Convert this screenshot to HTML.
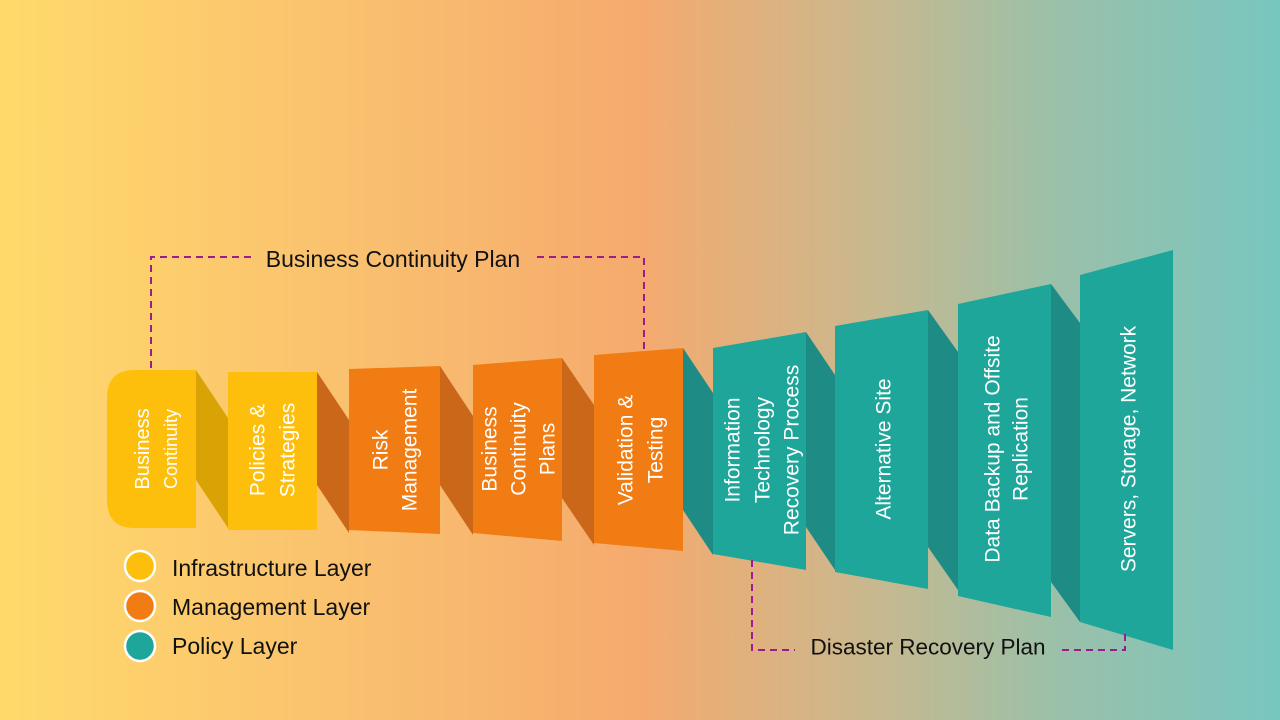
<!DOCTYPE html>
<html><head><meta charset="utf-8"><style>
html,body{margin:0;padding:0;}
body{width:1280px;height:720px;overflow:hidden;background:linear-gradient(90deg,#FFDA6B 0%,#F9BE6F 30%,#F5AA6E 50%,#C9B88E 68%,#9CC0A8 82%,#78C6C0 100%);}
svg{position:absolute;left:0;top:0;}
text{font-family:"Liberation Sans",sans-serif;}
.w{fill:#fff;font-size:21px;}
</style></head><body>
<svg width="1280" height="720" viewBox="0 0 1280 720">
<polygon points="196,370 228,418 228,528 196,480" fill="#D9A305"/>
<polygon points="317,372 349,420 349,533 317,485" fill="#CB6718"/>
<polygon points="440,366 473,416 473,535 440,485" fill="#CB6718"/>
<polygon points="562,358 594,405 594,545 562,498" fill="#CB6718"/>
<polygon points="683,348 713,393 713,555 683,510" fill="#1E8B84"/>
<polygon points="806,332 835,375 835,570 806,527" fill="#1E8B84"/>
<polygon points="928,310 958,352 958,590 928,547" fill="#1E8B84"/>
<polygon points="1051,284 1080,323 1080,622 1051,582" fill="#1E8B84"/>
<path d="M135,370 L196,370 L196,528 L135,528 Q107,528 107,500 L107,398 Q107,370 135,370Z" fill="#FDBF0B"/>
<polygon points="228,372 317,372 317,530 228,530" fill="#FDBF0B"/>
<polygon points="349,369 440,366 440,534 349,530" fill="#F27C14"/>
<polygon points="473,365 562,358 562,541 473,533" fill="#F27C14"/>
<polygon points="594,355 683,348 683,551 594,543" fill="#F27C14"/>
<polygon points="713,348 806,332 806,570 713,554" fill="#1FA69A"/>
<polygon points="835,326 928,310 928,589 835,572" fill="#1FA69A"/>
<polygon points="958,304 1051,284 1051,617 958,596" fill="#1FA69A"/>
<polygon points="1080,275 1173,250 1173,650 1080,622" fill="#1FA69A"/>
<g class="w" text-anchor="middle" dominant-baseline="central">
<text transform="translate(143,449) rotate(-90)" font-size="20">Business</text>
<text transform="translate(171,449) rotate(-90)" font-size="18">Continuity</text>
<text transform="translate(258,450) rotate(-90)">Policies &amp;</text>
<text transform="translate(288,450) rotate(-90)">Strategies</text>
<text transform="translate(381,450) rotate(-90)">Risk</text>
<text transform="translate(410,450) rotate(-90)">Management</text>
<text transform="translate(490,449) rotate(-90)">Business</text>
<text transform="translate(519,449) rotate(-90)">Continuity</text>
<text transform="translate(548,449) rotate(-90)">Plans</text>
<text transform="translate(626,450) rotate(-90)">Validation &amp;</text>
<text transform="translate(656,450) rotate(-90)">Testing</text>
<text transform="translate(733,450) rotate(-90)">Information</text>
<text transform="translate(763,450) rotate(-90)">Technology</text>
<text transform="translate(792,450) rotate(-90)">Recovery Process</text>
<text transform="translate(884,449) rotate(-90)">Alternative Site</text>
<text transform="translate(993,449) rotate(-90)">Data Backup and Offsite</text>
<text transform="translate(1021,449) rotate(-90)">Replication</text>
<text transform="translate(1129,449) rotate(-90)">Servers, Storage, Network</text>
</g>
<g stroke="#9B1C8C" stroke-width="2" fill="none" stroke-dasharray="7,5">
<polyline points="151,368 151,257 252,257"/>
<polyline points="537,257 644,257 644,350"/>
<polyline points="752,560 752,650 795,650"/>
<polyline points="1062,650 1125,650 1125,630"/>
</g>
<text x="393" y="259" text-anchor="middle" font-size="23" fill="#111" dominant-baseline="central">Business Continuity Plan</text>
<text x="928" y="647" text-anchor="middle" font-size="22.5" fill="#111" dominant-baseline="central">Disaster Recovery Plan</text>
<circle cx="140" cy="566" r="15" fill="#FDBF0B" stroke="#fff" stroke-width="2.5"/>
<circle cx="140" cy="606" r="15" fill="#F27C14" stroke="#fff" stroke-width="2.5"/>
<circle cx="140" cy="646" r="15" fill="#1FA69A" stroke="#fff" stroke-width="2.5"/>
<g font-size="23" fill="#111" dominant-baseline="central">
<text x="172" y="568">Infrastructure Layer</text>
<text x="172" y="607">Management Layer</text>
<text x="172" y="646">Policy Layer</text>
</g>
</svg>
</body></html>
